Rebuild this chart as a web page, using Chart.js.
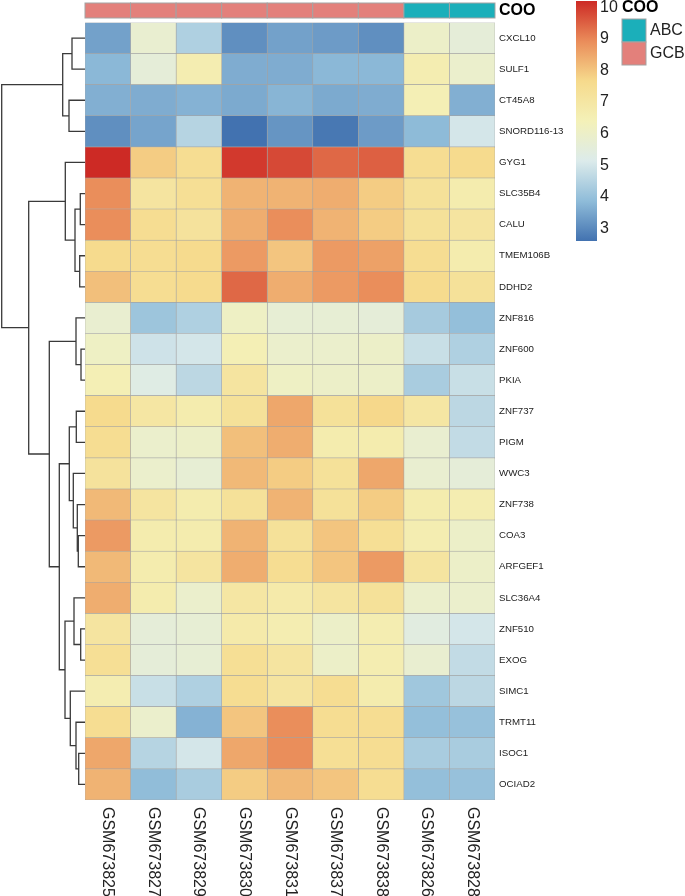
<!DOCTYPE html>
<html>
<head>
<meta charset="utf-8">
<script src="https://cdn.jsdelivr.net/npm/chart.js@4/dist/chart.umd.min.js"></script>
<style>
  body { margin: 0; background: #fff; }
  canvas { display: block; }
</style>
</head>
<body>
<canvas id="heatmap" width="685" height="896"></canvas>
<script>
/* ---------- data ---------- */
const samples = ["GSM673825", "GSM673827", "GSM673829", "GSM673830", "GSM673831",
                 "GSM673837", "GSM673838", "GSM673826", "GSM673828"];
const coo = ["GCB", "GCB", "GCB", "GCB", "GCB", "GCB", "GCB", "ABC", "ABC"];
const genes = ["CXCL10", "SULF1", "CT45A8", "SNORD116-13", "GYG1", "SLC35B4", "CALU",
               "TMEM106B", "DDHD2", "ZNF816", "ZNF600", "PKIA", "ZNF737", "PIGM", "WWC3",
               "ZNF738", "COA3", "ARFGEF1", "SLC36A4", "ZNF510", "EXOG", "SIMC1",
               "TRMT11", "ISOC1", "OCIAD2"];

// one row per gene, columns in sample order
const expression = [
  [3.4, 5.8, 4.4, 3.1, 3.4, 3.3, 3.1, 6.0, 5.6],   // CXCL10
  [3.8, 5.6, 6.6, 3.6, 3.6, 3.8, 3.8, 6.6, 5.9],   // SULF1
  [3.65, 3.6, 3.7, 3.55, 3.75, 3.55, 3.6, 6.5, 3.65], // CT45A8
  [3.1, 3.45, 4.5, 2.6, 3.2, 2.7, 3.3, 3.85, 5.0], // SNORD116-13
  [10.2, 7.9, 7.5, 10.0, 9.8, 9.4, 9.5, 7.5, 7.6], // GYG1
  [8.9, 7.1, 7.4, 8.3, 8.3, 8.4, 7.9, 7.3, 6.7],   // SLC35B4
  [8.9, 7.5, 7.2, 8.4, 8.9, 8.3, 7.9, 7.3, 7.1],   // CALU
  [7.6, 7.5, 7.6, 8.7, 8.0, 8.7, 8.6, 7.5, 6.7],   // TMEM106B
  [8.1, 7.5, 7.6, 9.4, 8.4, 8.7, 8.9, 7.6, 7.3],   // DDHD2
  [5.8, 4.1, 4.4, 6.1, 5.7, 5.7, 5.6, 4.25, 3.95], // ZNF816
  [6.1, 4.9, 5.0, 6.5, 5.9, 5.9, 6.0, 4.8, 4.4],   // ZNF600
  [6.5, 5.3, 4.6, 7.1, 6.1, 6.0, 6.0, 4.3, 4.8],   // PKIA
  [7.6, 7.0, 6.7, 7.3, 8.5, 7.3, 7.7, 7.0, 4.6],   // ZNF737
  [7.5, 5.9, 6.0, 8.1, 8.4, 6.7, 6.7, 5.8, 4.7],   // PIGM
  [7.2, 5.9, 5.7, 8.2, 7.9, 7.3, 8.5, 5.8, 5.6],   // WWC3
  [8.2, 7.1, 6.7, 7.3, 8.3, 7.3, 7.9, 6.7, 6.6],   // ZNF738
  [8.7, 6.7, 6.7, 8.3, 7.3, 8.0, 7.4, 6.6, 6.0],   // COA3
  [8.2, 6.7, 7.1, 8.4, 7.5, 8.0, 8.7, 7.1, 6.0],   // ARFGEF1
  [8.4, 6.7, 5.9, 7.0, 6.8, 7.1, 7.3, 5.9, 5.9],   // SLC36A4
  [7.1, 5.6, 5.7, 6.8, 6.6, 6.0, 6.6, 5.4, 5.0],   // ZNF510
  [7.4, 5.6, 5.7, 7.4, 7.1, 6.0, 6.6, 5.8, 4.7],   // EXOG
  [6.6, 4.8, 4.4, 7.5, 7.1, 7.5, 6.7, 4.15, 4.6],  // SIMC1
  [7.5, 5.9, 3.7, 8.0, 8.9, 7.5, 7.5, 3.95, 4.0],  // TRMT11
  [8.5, 4.5, 5.0, 8.5, 8.9, 7.4, 7.5, 4.3, 4.3],   // ISOC1
  [8.3, 3.9, 4.3, 7.9, 8.2, 8.0, 7.5, 3.95, 4.0]   // OCIAD2
];

// row clustering, hclust style: negative = gene (1-based), positive = earlier merge
const merges = [
  [-11, -12, 4.0], [-20, -21, 4.3], [-6, -7, 4.7], [-8, -9, 5.3], [-24, -25, 6.3],
  [-17, -18, 6.7], [-16, 6, 7.7], [-13, -14, 8.7], [-10, 1, 9.0], [-23, 5, 9.0],
  [3, 4, 10.0], [-19, 2, 11.0], [-15, 7, 11.7], [-1, -2, 13.0], [-22, 10, 14.7],
  [8, 13, 15.7], [-3, -4, 16.0], [-5, 11, 19.7], [12, 15, 20.0], [14, 17, 22.3],
  [16, 19, 25.7], [9, 21, 35.7], [18, 22, 56.3], [20, 23, 83.3]
];

const colorTicks = [3, 4, 5, 6, 7, 8, 9, 10];
const cooLevels = ["ABC", "GCB"];
const cooColors = { ABC: "#1bafba", GCB: "#e3807b" };

/* ---------- colours ---------- */
const palette = ["#4272b0", "#8fbcd9", "#dcebeb", "#f4f1b8", "#f6da8c", "#ea8c5a", "#cd2a25"];
const allValues = expression.flat();
const vMin = Math.min(...allValues);
const vMax = Math.max(...allValues);

const hexToRgb = (h) => [1, 3, 5].map((i) => parseInt(h.substr(i, 2), 16));
const heatColor = (v) => {
  let t = (v - vMin) / (vMax - vMin);
  t = Math.max(0, Math.min(1, t)) * (palette.length - 1);
  const i = Math.min(Math.floor(t), palette.length - 2);
  const f = t - i;
  const a = hexToRgb(palette[i]);
  const b = hexToRgb(palette[i + 1]);
  const c = a.map((x, k) => Math.round(x + (b[k] - x) * f));
  return `rgb(${c[0]},${c[1]},${c[2]})`;
};

const FONT = "'Liberation Sans', Arial, sans-serif";
const gridGrey = "#a3a3a3";

/* ---------- extras: annotation, dendrogram, labels, legends ---------- */
const heatmapExtras = {
  id: "heatmapExtras",
  afterDraw(chart) {
    const ctx = chart.ctx;
    const xs = chart.scales.x;
    const ys = chart.scales.y;
    const area = chart.chartArea;
    ctx.save();

    // COO annotation strip
    samples.forEach((s, c) => {
      const x0 = xs.getPixelForValue(c);
      const x1 = xs.getPixelForValue(c + 1);
      ctx.fillStyle = cooColors[coo[c]];
      ctx.fillRect(x0, 3, x1 - x0, 15);
      ctx.strokeStyle = gridGrey;
      ctx.lineWidth = 1;
      ctx.strokeRect(x0, 3, x1 - x0, 15);
    });
    ctx.fillStyle = "#000";
    ctx.font = `bold 16px ${FONT}`;
    ctx.textBaseline = "middle";
    ctx.textAlign = "left";
    ctx.fillText("COO", area.right + 4, 11);

    // sample names, rotated
    ctx.font = `16px ${FONT}`;
    ctx.fillStyle = "#222";
    samples.forEach((s, c) => {
      const cx = xs.getPixelForValue(c + 0.5);
      ctx.save();
      ctx.translate(cx, area.bottom + 7);
      ctx.rotate(Math.PI / 2);
      ctx.textAlign = "left";
      ctx.textBaseline = "middle";
      ctx.fillText(s, 0, 0);
      ctx.restore();
    });

    // row dendrogram
    const rootH = merges[merges.length - 1][2];
    const dendroLeft = 1.7;
    const hx = (h) => area.left - (h / rootH) * (area.left - dendroLeft);
    const nodes = [];
    const pos = (ref) => {
      if (ref < 0) return { x: area.left, y: ys.getPixelForValue(-ref - 1) };
      return nodes[ref - 1];
    };
    ctx.strokeStyle = "#3a3a3a";
    ctx.lineWidth = 1.3;
    merges.forEach(([a, b, h]) => {
      const pa = pos(a);
      const pb = pos(b);
      const x = hx(h);
      ctx.beginPath();
      ctx.moveTo(pa.x, pa.y);
      ctx.lineTo(x, pa.y);
      ctx.lineTo(x, pb.y);
      ctx.lineTo(pb.x, pb.y);
      ctx.stroke();
      nodes.push({ x: x, y: (pa.y + pb.y) / 2 });
    });

    // colour key
    const barX = 576, barW = 21, barTop = 1, barBot = 241;
    const grad = ctx.createLinearGradient(0, barBot, 0, barTop);
    palette.forEach((p, i) => grad.addColorStop(i / (palette.length - 1), p));
    ctx.fillStyle = grad;
    ctx.fillRect(barX, barTop, barW, barBot - barTop);
    ctx.fillStyle = "#222";
    ctx.font = `16px ${FONT}`;
    ctx.textAlign = "left";
    colorTicks.forEach((v) => {
      const y = barBot - ((v - vMin) / (vMax - vMin)) * (barBot - barTop);
      ctx.fillText(String(v), barX + barW + 3, y);
    });

    // COO legend
    ctx.font = `bold 16px ${FONT}`;
    ctx.fillStyle = "#000";
    ctx.fillText("COO", 622, 8);
    ctx.font = `16px ${FONT}`;
    cooLevels.forEach((lv, i) => {
      const y0 = 19 + i * 23;
      ctx.fillStyle = cooColors[lv];
      ctx.fillRect(622, y0, 24, 23);
      ctx.strokeStyle = gridGrey;
      ctx.lineWidth = 1;
      ctx.strokeRect(622, y0, 24, 23);
      ctx.fillStyle = "#222";
      ctx.fillText(lv, 650, y0 + 12);
    });

    ctx.restore();
  }
};

/* ---------- chart ---------- */
new Chart(document.getElementById("heatmap"), {
  type: "bar",
  data: {
    labels: genes,
    datasets: samples.map((s, c) => ({
      label: s,
      data: genes.map(() => [c, c + 1]),
      backgroundColor: expression.map((row) => heatColor(row[c])),
      borderColor: gridGrey,
      borderWidth: 0.6,
      borderSkipped: false,
      grouped: false,
      barPercentage: 1,
      categoryPercentage: 1
    }))
  },
  options: {
    indexAxis: "y",
    responsive: false,
    animation: false,
    layout: { padding: { left: 85, top: 22.5, bottom: 96, right: 0 } },
    scales: {
      x: { type: "linear", min: 0, max: 9, display: false },
      y: {
        type: "category",
        position: "right",
        grid: { display: false, drawTicks: false },
        border: { display: false },
        ticks: { color: "#222", padding: 4, font: { size: 9.7, family: FONT } },
        afterFit: (s) => { s.width = 190; }
      }
    },
    plugins: {
      legend: { display: false },
      tooltip: { enabled: false }
    }
  },
  plugins: [heatmapExtras]
});
</script>
</body>
</html>
